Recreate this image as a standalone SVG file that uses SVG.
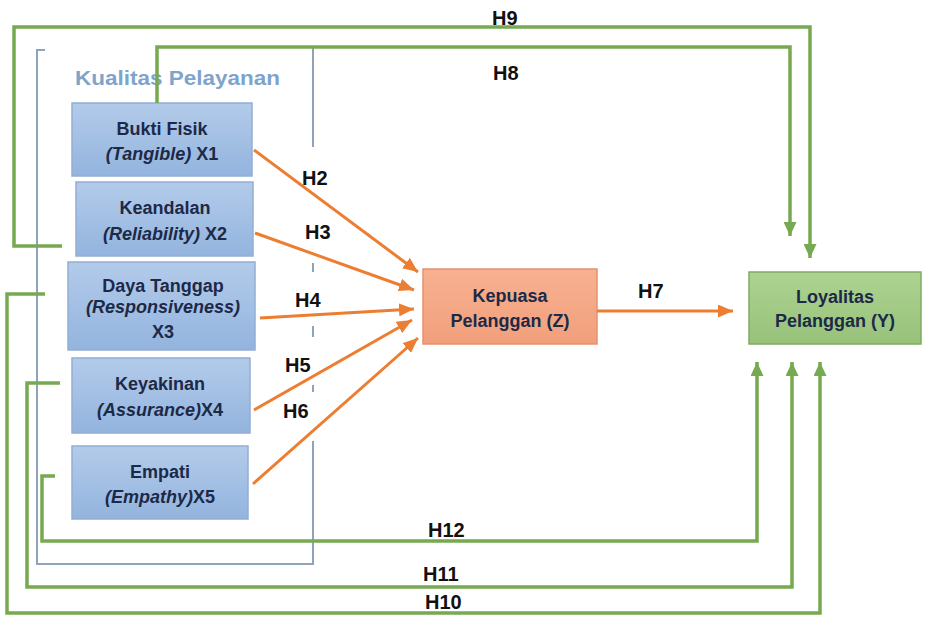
<svg xmlns="http://www.w3.org/2000/svg" width="927" height="617" viewBox="0 0 927 617">
<style>
.bx{fill:url(#gb);stroke:#93aed3;stroke-width:1.5}
.bt{font-family:"Liberation Sans",Arial,sans-serif;font-weight:bold;font-size:18px;fill:#1c2947;text-anchor:middle}
.it{font-style:italic}
.lbl{font-family:"Liberation Sans",Arial,sans-serif;font-weight:bold;font-size:20px;fill:#111}
.g{fill:none;stroke:#77a950;stroke-width:3.5}
.o{fill:none;stroke:#ed7d31;stroke-width:3}
.gr{fill:none;stroke:#8fa3bb;stroke-width:2}
</style>
<defs>
<linearGradient id="gb" x1="0" y1="0" x2="0" y2="1"><stop offset="0" stop-color="#b3cbea"/><stop offset="1" stop-color="#93b4de"/></linearGradient>
<linearGradient id="go" x1="0" y1="0" x2="0" y2="1"><stop offset="0" stop-color="#f7b191"/><stop offset="1" stop-color="#f29f7b"/></linearGradient>
<linearGradient id="gg" x1="0" y1="0" x2="0" y2="1"><stop offset="0" stop-color="#add391"/><stop offset="1" stop-color="#97c27a"/></linearGradient>
<marker id="ag" markerUnits="userSpaceOnUse" markerWidth="14" markerHeight="13" refX="14" refY="6.5" orient="auto"><path d="M0,0 L14,6.5 L0,13 z" fill="#77a950"/></marker>
<marker id="ao" markerUnits="userSpaceOnUse" markerWidth="15" markerHeight="13" refX="15" refY="6.5" orient="auto"><path d="M0,0 L15,6.5 L0,13 z" fill="#ed7d31"/></marker>
</defs>
<rect width="927" height="617" fill="#fff"/>

<g id="group-kualitas">
<path class="gr" d="M45,50 H37 V564 H313 V441"/>
<path class="gr" d="M313,47 V147 M313,263 V272 M313,326 V337 M313,385 V392"/>
<text x="75" y="85" font-family="Liberation Sans,Arial,sans-serif" font-weight="bold" font-size="20" fill="#7fa4cc" textLength="205" lengthAdjust="spacingAndGlyphs">Kualitas Pelayanan</text>
</g>

<g id="x1">
<rect class="bx" x="72" y="103" width="180" height="73"/>
<text class="bt" x="162" y="135">Bukti Fisik</text>
<text class="bt" x="162" y="160"><tspan class="it">(Tangible)</tspan> X1</text>
</g>
<g id="x2">
<rect class="bx" x="76" y="182" width="177" height="74"/>
<text class="bt" x="165" y="214">Keandalan</text>
<text class="bt" x="165" y="240"><tspan class="it">(Reliability)</tspan> X2</text>
</g>
<g id="x3">
<rect class="bx" x="68" y="262" width="187" height="88"/>
<text class="bt" x="163" y="292" font-size="16">Daya Tanggap</text>
<text class="bt it" x="163" y="313" font-size="16">(Responsiveness)</text>
<text class="bt" x="163" y="338" font-size="16">X3</text>
</g>
<g id="x4">
<rect class="bx" x="72" y="358" width="178" height="75"/>
<text class="bt" x="160" y="390">Keyakinan</text>
<text class="bt" x="160" y="416"><tspan class="it">(Assurance)</tspan>X4</text>
</g>
<g id="x5">
<rect class="bx" x="72" y="446" width="176" height="73"/>
<text class="bt" x="160" y="478">Empati</text>
<text class="bt" x="160" y="503"><tspan class="it">(Empathy)</tspan>X5</text>
</g>
<g id="z">
<rect x="423" y="269" width="174" height="75" fill="url(#go)" stroke="#e39371" stroke-width="1.5"/>
<text class="bt" x="510" y="302" fill="#2a1a12">Kepuasa</text>
<text class="bt" x="510" y="327" fill="#2a1a12">Pelanggan (Z)</text>
</g>
<g id="y">
<rect x="749" y="272" width="172" height="72" fill="url(#gg)" stroke="#80aa62" stroke-width="1.5"/>
<text class="bt" x="835" y="303" fill="#1e2a18">Loyalitas</text>
<text class="bt" x="835" y="327" fill="#1e2a18">Pelanggan (Y)</text>
</g>

<g id="connectors">
<path class="o" d="M254,150 L418,272" marker-end="url(#ao)"/>
<path class="o" d="M255,233 L414,290" marker-end="url(#ao)"/>
<path class="o" d="M260,318 L414,309" marker-end="url(#ao)"/>
<path class="o" d="M254,410 L412,320" marker-end="url(#ao)"/>
<path class="o" d="M253,484 L418,338" marker-end="url(#ao)"/>
<path class="o" d="M597,311 L733,311" marker-end="url(#ao)"/>
<path class="g" d="M62,246 H14 V27 H810 V258" marker-end="url(#ag)"/>
<path class="g" d="M157,103 V47 H790 V236" marker-end="url(#ag)"/>
<path class="g" d="M55,476 H42 V541 H757 V362" marker-end="url(#ag)"/>
<path class="g" d="M60,383 H27 V587 H792 V362" marker-end="url(#ag)"/>
<path class="g" d="M45,294 H7 V613 H820 V362" marker-end="url(#ag)"/>
</g>

<g id="labels">
<text class="lbl" x="302" y="185">H2</text>
<text class="lbl" x="305" y="239">H3</text>
<text class="lbl" x="295" y="307">H4</text>
<text class="lbl" x="285" y="372">H5</text>
<text class="lbl" x="283" y="418">H6</text>
<text class="lbl" x="638" y="298">H7</text>
<text class="lbl" x="493" y="80">H8</text>
<text class="lbl" x="492" y="25">H9</text>
<text class="lbl" x="428" y="537">H12</text>
<text class="lbl" x="423" y="581">H11</text>
<text class="lbl" x="425" y="609" font-size="17">H10</text>
</g>
</svg>
